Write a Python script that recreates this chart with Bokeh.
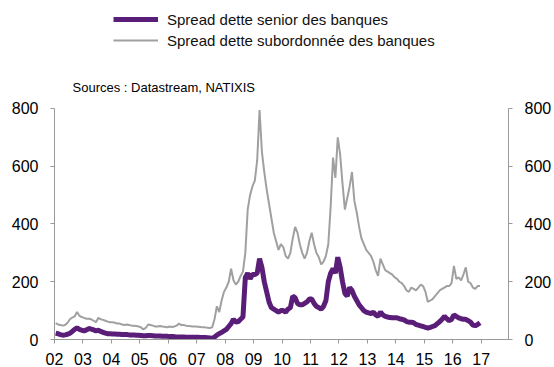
from bokeh.plotting import figure
from bokeh.models import (Range1d, LinearAxis, FixedTicker, Legend, LegendItem, Label)
from bokeh.embed import file_html
from bokeh.resources import INLINE

years = list(range(2002, 2017))
year_labels = ["02", "03", "04", "05", "06", "07", "08", "09", "10", "11", "12", "13", "14", "15", "16", "17"]
y_ticks = [0, 200, 400, 600, 800]

# monthly values, one row per year 2002..2016
senior = [
    [22, 20, 17, 15, 16, 18, 22, 28, 35, 40, 35, 32],
    [30, 33, 38, 36, 33, 30, 32, 28, 25, 22, 20, 20],
    [19, 19, 18, 18, 17, 17, 17, 16, 16, 16, 15, 15],
    [14, 13, 13, 14, 14, 13, 12, 12, 12, 11, 11, 11],
    [10, 10, 10, 9, 9, 9, 9, 8, 8, 8, 8, 8],
    [8, 7, 7, 7, 6, 5, 4, 8, 15, 20, 25, 30],
    [35, 45, 55, 70, 60, 62, 70, 78, 215, 230, 210, 225],
    [225, 230, 280, 250, 200, 165, 130, 110, 105, 100, 95, 100],
    [100, 95, 105, 110, 150, 145, 125, 120, 120, 125, 130, 140],
    [140, 125, 115, 110, 105, 115, 135, 200, 230, 245, 230, 285],
    [250, 200, 160, 150, 180, 170, 150, 135, 120, 110, 100, 95],
    [92, 90, 95, 85, 80, 95, 85, 80, 78, 76, 75, 75],
    [75, 72, 70, 68, 62, 60, 60, 58, 52, 50, 47, 45],
    [42, 40, 42, 45, 48, 55, 62, 70, 80, 72, 65, 70],
    [85, 80, 75, 72, 70, 70, 65, 60, 50, 48, 52, 58],
]
subordinated = [
    [57, 52, 50, 48, 50, 58, 70, 76, 80, 95, 82, 78],
    [75, 72, 72, 70, 65, 60, 75, 70, 68, 65, 62, 60],
    [60, 58, 55, 55, 52, 50, 52, 50, 48, 48, 47, 45],
    [42, 35, 40, 52, 50, 48, 45, 45, 47, 45, 44, 42],
    [45, 43, 45, 48, 55, 50, 50, 48, 47, 46, 45, 45],
    [44, 43, 42, 42, 41, 40, 42, 70, 115, 95, 135, 165],
    [180, 200, 245, 205, 190, 200, 220, 235, 300, 450, 500, 530],
    [550, 620, 795, 650, 580, 520, 470, 420, 370, 340, 310, 330],
    [320, 290, 280, 300, 350, 390, 370, 330, 300, 280, 300, 340],
    [370, 330, 300, 285, 260, 270, 290, 330, 460, 630, 560, 700],
    [640, 540, 450, 490, 530, 580, 480, 440, 390, 350, 330, 310],
    [300, 290, 270, 240, 220, 280, 260, 240, 235, 230, 225, 215],
    [210, 200, 195, 185, 170, 165, 180, 175, 170, 180, 190, 185],
    [165, 130, 135, 140, 150, 160, 170, 175, 180, 185, 185, 195],
    [255, 210, 215, 205, 225, 250, 200, 195, 180, 175, 185, 185],
]

xs = [y + (m + 0.5) / 12 for y in years for m in range(12)]
senior_flat = [v for row in senior for v in row]
sub_flat = [v for row in subordinated for v in row]

PURPLE = "#5B1E78"
GREY = "#A0A0A0"
AXIS = "#999999"
FONT = "Liberation Sans"

# frame reaches the top of the canvas so legend/source text are not clipped;
# axis lines are bounded to 0..800
p = figure(width=554, height=367, output_backend="svg", toolbar_location=None,
           x_range=Range1d(2002, 2017.96), y_range=Range1d(0, 1174),
           min_border_left=54, min_border_right=46, min_border_top=0, min_border_bottom=28)
p.outline_line_color = None
p.grid.visible = False
p.background_fill_color = "white"

r_sub = p.line(xs, sub_flat, line_color=GREY, line_width=2)
r_sen = p.line(xs, senior_flat, line_color=PURPLE, line_width=5)

def style(ax):
    ax.axis_line_color = AXIS
    ax.major_tick_line_color = AXIS
    ax.minor_tick_line_color = None
    ax.major_tick_in = 0
    ax.major_tick_out = 4
    ax.major_label_text_font = FONT
    ax.major_label_text_font_size = "16px"
    ax.major_label_text_color = "black"

xa = p.xaxis[0]
xa.ticker = FixedTicker(ticks=years + [2017])
xa.major_label_overrides = {y: lab for y, lab in zip(years + [2017], year_labels)}
style(xa)
xa.major_label_standoff = 9

ya = p.yaxis[0]
ya.ticker = FixedTicker(ticks=y_ticks)
ya.bounds = (0, 800)
style(ya)
ya.major_label_standoff = 12

ra = LinearAxis(ticker=FixedTicker(ticks=y_ticks), bounds=(0, 800))
style(ra)
ra.major_label_standoff = 12
p.add_layout(ra, "right")

legend = Legend(items=[LegendItem(label="Spread dette senior des banques", renderers=[r_sen]),
                       LegendItem(label="Spread dette subordonnée des banques", renderers=[r_sub])],
                location=(59, 289), orientation="vertical",
                border_line_color=None, background_fill_alpha=0,
                padding=0, margin=0, spacing=1,
                glyph_width=45, glyph_height=20, label_height=20,
                label_standoff=9, label_text_font=FONT, label_text_font_size="15px",
                label_text_color="#111111")
p.add_layout(legend, "center")

src = Label(x=18, y=252, x_units="screen", y_units="screen",
            text="Sources : Datastream, NATIXIS", text_font=FONT,
            text_font_size="13px", text_color="black", text_baseline="alphabetic")
p.add_layout(src)

open("out.html", "w").write(file_html(p, INLINE))
